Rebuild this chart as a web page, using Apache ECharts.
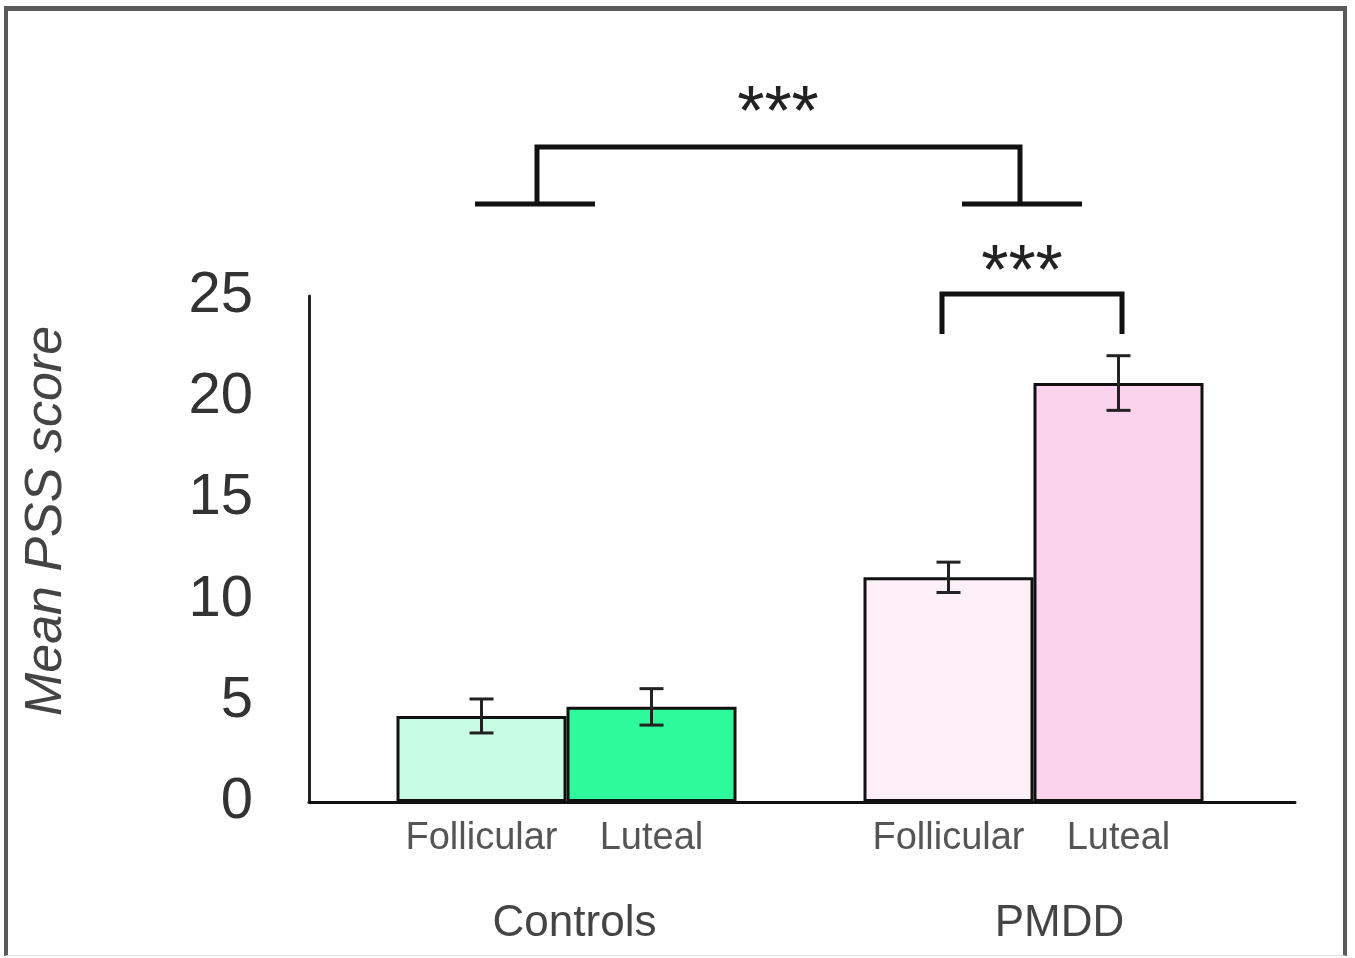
<!DOCTYPE html>
<html>
<head>
<meta charset="utf-8">
<title>Mean PSS score</title>
<script src="https://cdn.jsdelivr.net/npm/echarts@6/dist/echarts.min.js"></script>
<style>
  html, body { margin: 0; padding: 0; background: #fff; }
  #wrap { position: relative; width: 1355px; height: 958px; }
  #chart { width: 1355px; height: 958px; }
  /* picture frame of the original figure */
  #frame {
    position: absolute; left: 4px; top: 6px; width: 1343px; height: 950px;
    border-top: 5px solid #5a5a5a; border-left: 4px solid #5a5a5a;
    border-right: 4px solid #5a5a5a; border-bottom: 1px solid #ddd;
    box-sizing: border-box; pointer-events: none;
  }
</style>
</head>
<body>
<div id="wrap">
  <div id="chart"></div>
  <div id="frame"></div>
</div>
<script>
// 数据
const groups = ['Controls', 'PMDD'];
const phases = ['Follicular', 'Luteal'];
const follicularMean = [4.25, 11.1];
const follicularErr = [0.84, 0.75];
const lutealMean = [4.7, 20.7];
const lutealErr = [0.9, 1.35];
const follicularColors = ['#c8fce5', '#fff0f8'];
const lutealColors = ['#2dfb9b', '#fcd3ec'];

const BAR_W = 170;
const FONT = '"Liberation Sans", Arial, Helvetica, sans-serif';

const chart = echarts.init(document.getElementById('chart'));

// 误差线：按柱子位置左右偏移
function errorSeries(name, means, errs, shift) {
    return {
        type: 'custom',
        name: name + ' err',
        xAxisIndex: 0,
        yAxisIndex: 0,
        z: 5,
        data: means.map((m, i) => [i, m, errs[i]]),
        renderItem: function (params, api) {
            const i = api.value(0);
            const m = api.value(1);
            const e = api.value(2);
            const hi = api.coord([i, m + e]);
            const lo = api.coord([i, m - e]);
            const x = hi[0] + shift;
            const cap = 12;
            const style = { stroke: '#222', lineWidth: 3, fill: null };
            return {
                type: 'group',
                children: [
                    { type: 'line', shape: { x1: x, y1: hi[1], x2: x, y2: lo[1] }, style: style },
                    { type: 'line', shape: { x1: x - cap, y1: hi[1], x2: x + cap, y2: hi[1] }, style: style },
                    { type: 'line', shape: { x1: x - cap, y1: lo[1], x2: x + cap, y2: lo[1] }, style: style }
                ]
            };
        }
    };
}

function barSeries(name, means, colors) {
    return {
        type: 'bar',
        name: name,
        xAxisIndex: 0,
        yAxisIndex: 0,
        barWidth: BAR_W,
        barGap: '0%',
        data: means.map((m, i) => ({ value: m, itemStyle: { color: colors[i] } })),
        itemStyle: { borderColor: '#111', borderWidth: 3 },
        label: {
            show: true,
            position: 'bottom',
            distance: 18,
            formatter: '{a}',
            fontFamily: FONT,
            fontSize: 38,
            color: '#555'
        }
    };
}

const bracketStyle = { stroke: '#111', lineWidth: 5, fill: null };

const option = {
    animation: false,
    grid: [
        { left: 333, right: 88, top: 296, bottom: 156 },
        // 只用来画完整的横轴线
        { left: 309, right: 60, top: 296, bottom: 156 }
    ],
    xAxis: [
        {
            type: 'category',
            gridIndex: 0,
            data: groups,
            axisLine: { show: false },
            axisTick: { show: false },
            axisLabel: {
                margin: 100,
                formatter: function (v) { return v === 'PMDD' ? '{p|' + v + '}' : '{c|' + v + '}'; },
                rich: {
                    c: { fontFamily: FONT, fontSize: 44, color: '#444', padding: [0, 0, 0, 16] },
                    p: { fontFamily: FONT, fontSize: 44, color: '#444', padding: [0, 0, 0, 52] }
                }
            }
        },
        {
            type: 'value',
            gridIndex: 1,
            axisLine: { show: true, lineStyle: { color: '#111', width: 3 } },
            axisTick: { show: false },
            axisLabel: { show: false },
            splitLine: { show: false }
        }
    ],
    yAxis: [
        {
            type: 'value',
            gridIndex: 0,
            min: 0,
            max: 25,
            interval: 5,
            offset: 24,
            axisLine: { show: true, lineStyle: { color: '#222', width: 3 } },
            axisTick: { show: false },
            splitLine: { show: false },
            axisLabel: { margin: 56, fontFamily: FONT, fontSize: 58, color: '#333', padding: [6, 0, 0, 0] },
            name: 'Mean PSS score',
            nameLocation: 'middle',
            nameGap: 236,
            nameTextStyle: { fontFamily: FONT, fontSize: 52, fontStyle: 'italic', color: '#444', padding: [0, 0, 0, 56] }
        },
        {
            type: 'value',
            gridIndex: 1,
            show: false
        }
    ],
    series: [
        barSeries(phases[0], follicularMean, follicularColors),
        barSeries(phases[1], lutealMean, lutealColors),
        errorSeries(phases[0], follicularMean, follicularErr, -BAR_W / 2),
        errorSeries(phases[1], lutealMean, lutealErr, BAR_W / 2)
    ],
    graphic: [
        // 组间显著性括号
        { type: 'polyline', shape: { points: [[537, 204], [537, 147], [1020, 147], [1020, 204]] }, style: bracketStyle },
        { type: 'line', shape: { x1: 475, y1: 204, x2: 595, y2: 204 }, style: bracketStyle },
        { type: 'line', shape: { x1: 962, y1: 204, x2: 1082, y2: 204 }, style: bracketStyle },
        { type: 'text', x: 778, y: 116, style: { text: '***', font: '70px ' + FONT, fill: '#222', textAlign: 'center', textVerticalAlign: 'middle' } },
        // PMDD 组内括号
        { type: 'polyline', shape: { points: [[942, 334], [942, 294], [1122, 294], [1122, 334]] }, style: bracketStyle },
        { type: 'text', x: 1022, y: 275, style: { text: '***', font: '70px ' + FONT, fill: '#222', textAlign: 'center', textVerticalAlign: 'middle' } }
    ]
};

chart.setOption(option);
</script>
</body>
</html>
